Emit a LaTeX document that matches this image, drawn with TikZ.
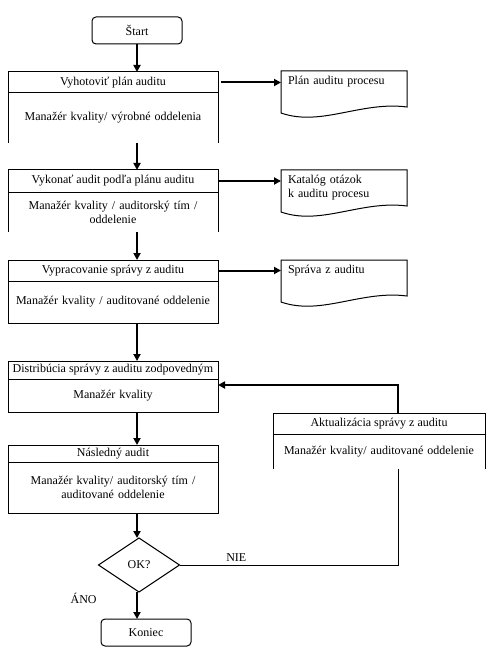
\documentclass[tikz,border=0pt]{standalone}
\usepackage{fontspec}
\setmainfont{Liberation Serif}
\usetikzlibrary{shapes.geometric, arrows.meta, positioning}
\tikzset{
  term/.style={rectangle, rounded corners=4pt, draw, line width=1pt,
               minimum width=90pt, minimum height=27pt, inner sep=0pt, outer sep=0pt},
  hd/.style={rectangle, draw, line width=1pt, minimum width=#1, inner sep=0pt, outer sep=0pt},
  hd/.default=210pt,
  bd/.style={rectangle, minimum width=#1, text width=200pt, align=center,
             inner sep=0pt, outer sep=0pt},
  bd/.default=210pt,
  bdc/.style={bd=#1, draw, line width=1pt},
  bdc/.default=210pt,
  doc/.style={rectangle, text width=112pt, align=left, inner xsep=7pt, inner ysep=5pt, outer sep=0pt},
  dec/.style={diamond, draw, line width=1pt, minimum width=81pt, minimum height=54pt,
              inner sep=0pt, outer sep=0pt},
  arr/.style={-{Triangle[length=7pt, width=7pt]}, line width=2pt},
  ln/.style={line width=1pt},
}
\begin{document}
\begin{tikzpicture}[x=1pt, y=-1pt, font=\fontsize{12}{14}\selectfont]
  \useasboundingbox (0,0) rectangle (491,647);

  % Start
  \node[term] (start) at (137,30.5) {Štart};

  % Vyhotovit plan auditu
  \node[hd, minimum height=21pt, below=28pt of start, xshift=-24pt] (h1) {Vyhotoviť plán auditu};
  \node[bd, minimum height=50pt, below=0pt of h1] (b1) {Manažér kvality/ výrobné oddelenia};
  \node[doc, right=63pt of h1.north east, anchor=north west, yshift=1pt] (doc1) {Plán auditu procesu};

  % Vykonat audit
  \node[hd, minimum height=22pt, below=27pt of b1] (h2) {Vykonať audit podľa plánu auditu};
  \node[bd, minimum height=40pt, below=0pt of h2] (b2) {Manažér kvality / auditorský tím /\\oddelenie};
  \node[doc, right=63pt of h2.north east, anchor=north west] (doc2) {Katalóg otázok\\k auditu procesu};

  % Vypracovanie spravy
  \node[hd, minimum height=21pt, below=28pt of b2] (h3) {Vypracovanie správy z auditu};
  \node[bdc, minimum height=42pt, below=0pt of h3] (b3) {Manažér kvality / auditované oddelenie};
  \node[doc, right=63pt of h3.north east, anchor=north west] (doc3) {Správa z auditu};

  % Distribucia spravy
  \node[hd, minimum height=18pt, below=38pt of b3] (h4) {Distribúcia správy z auditu zodpovedným};
  \node[bdc, minimum height=33pt, below=0pt of h4] (b4) {Manažér kvality};

  % Aktualizacia spravy
  \node[hd=212pt, minimum height=21pt, right=55pt of b4.south east, anchor=north west, yshift=-1pt] (h6)
    {Aktualizácia správy z auditu};
  \node[bd=212pt, minimum height=35pt, below=0pt of h6] (b6) {Manažér kvality/ auditované oddelenie};

  % Nasledny audit
  \node[hd, minimum height=17pt, below=33pt of b4] (h5) {Následný audit};
  \node[bdc, minimum height=51pt, below=0pt of h5] (b5) {Manažér kvality/ auditorský tím /\\auditované oddelenie};

  % Decision and end
  \node[dec, below=25pt of b5, xshift=26pt] (ok) {OK?};
  \node[term, below=27pt of ok, xshift=7pt] (end) {Koniec};

  % Open boxes
  \foreach \b in {b1,b2,b6}
    \draw[ln] (\b.south west) -- (\b.north west) (\b.north east) -- (\b.south east);

  % Documents
  \foreach \d in {doc1,doc2,doc3}
    \draw[ln] (\d.north west) -- (\d.north east) -- ++(0,36)
      .. controls +(-46,-6) and +(40,14) .. ([yshift=-42pt]\d.north west) -- cycle;

  % Arrows
  \draw[arr] (start.south) -- (start.south |- h1.north);
  \draw[arr] (b1.south -| start.south) -- (h2.north -| start.south);
  \draw[arr] (b2.south -| start.south) -- (h3.north -| start.south);
  \draw[arr] (b3.south -| start.south) -- (h4.north -| start.south);
  \draw[arr] (b4.south -| start.south) -- (h5.north -| start.south);
  \draw[arr] (b5.south -| start.south) -- (ok.north -| start.south);
  \draw[arr] (ok.south -| start.south) -- (end.north -| start.south)
    node[pos=0.22, left=36pt] {ÁNO};
  \draw[arr] ([xshift=3pt]h1.east) -- (h1.east -| doc1.west);
  \draw[arr] ([xshift=1pt]h2.east) -- (h2.east -| doc2.west);
  \draw[arr] ([xshift=1pt]h3.east) -- (h3.east -| doc3.west);
  \draw[ln] (ok.east) -| ([xshift=19pt]b6.south) node[pos=0.13, above] {NIE};
  \draw[arr] ([xshift=19pt]h6.north) |- ([yshift=-6pt]b4.north east);

\end{tikzpicture}
\end{document}
